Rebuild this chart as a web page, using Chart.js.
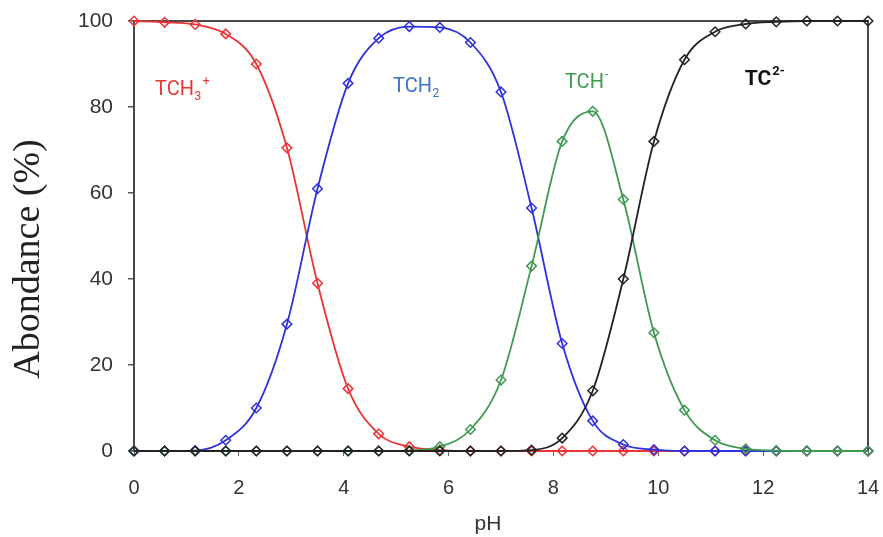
<!DOCTYPE html>
<html>
<head>
<meta charset="utf-8">
<script src="https://cdn.jsdelivr.net/npm/chart.js@4/dist/chart.umd.min.js"></script>
<style>
  html, body { margin: 0; padding: 0; background: #ffffff; overflow: hidden; }
  #wrap { width: 883px; height: 537px; position: relative; }
</style>
</head>
<body>
<div id="wrap"><canvas id="c"></canvas></div>
<script>
// pH sampling points (25 points, 0 to 14)
const phValues = [0, 0.583, 1.167, 1.75, 2.333, 2.917, 3.5, 4.083, 4.667, 5.25, 5.833, 6.417, 7.0,
                  7.583, 8.167, 8.75, 9.333, 9.917, 10.5, 11.083, 11.667, 12.25, 12.833, 13.417, 14];

// Abundance (%) of each species
const tch3 = [100, 99.7, 99.2, 97, 90, 70.5, 39, 14.5, 4, 1, 0.2, 0, 0,
              0, 0, 0, 0, 0, 0, 0, 0, 0, 0, 0, 0];
const tch2 = [0, 0, 0.1, 2.5, 10, 29.5, 61, 85.5, 96, 98.7, 98.5, 95, 83.5,
              56.5, 25, 7, 1.5, 0.3, 0, 0, 0, 0, 0, 0, 0];
const tchm = [0, 0, 0, 0, 0, 0, 0, 0, 0, 0.1, 1, 5, 16.5,
              43, 72, 79, 58.5, 27.5, 9.5, 2.5, 0.5, 0.1, 0, 0, 0];
const tc2m = [0, 0, 0, 0, 0, 0, 0, 0, 0, 0, 0, 0, 0,
              0.2, 3, 14, 40, 72, 91, 97.5, 99.3, 99.8, 100, 100, 100];

const xTicks = [0, 2, 4, 6, 8, 10, 12, 14];
const yTicks = [0, 20, 40, 60, 80, 100];

const xTitle = 'pH';
const yTitle = 'Abondance (%)';

const seriesNames = ['TC2-', 'TCH-', 'TCH2', 'TCH3+'];
const seriesColors = ['#222222', '#3f9a50', '#3030dc', '#ec3434'];
const seriesData = [tc2m, tchm, tch2, tch3];

// Species labels drawn inside the plot: [main text, subscript, superscript, pH, abundance, colour, bold]
const speciesLabels = [
  ['TCH', '3', '+', 0.40, 82.8, '#ec3434', false],
  ['TCH', '2', '',  4.94, 83.5, '#3a72c8', false],
  ['TCH', '',  '-', 8.22, 84.4, '#3f9a50', false],
  ['TC',  '',  '2-', 11.65, 85.1, '#111111', true]
];

const datasets = seriesData.map((vals, i) => ({
  label: seriesNames[i],
  data: phValues.map((p, j) => ({ x: p, y: vals[j] })),
  borderColor: seriesColors[i],
  backgroundColor: 'rgba(255,255,255,0)',
  borderWidth: 1.8,
  pointStyle: 'rectRot',
  pointRadius: 4.8,
  pointBorderWidth: 1.5,
  pointBorderColor: seriesColors[i],
  pointBackgroundColor: 'rgba(255,255,255,0)',
  cubicInterpolationMode: 'monotone',
  fill: false,
  clip: false
}));

const framePlugin = {
  id: 'frame',
  beforeDatasetsDraw(chart) {
    const { ctx, chartArea: a } = chart;
    ctx.save();
    ctx.strokeStyle = '#4a4a4a';
    ctx.lineWidth = 2;
    ctx.beginPath();
    ctx.moveTo(a.left, a.top);
    ctx.lineTo(a.right, a.top);
    ctx.lineTo(a.right, a.bottom);
    ctx.stroke();
    ctx.restore();
  }
};

const titlePlugin = {
  id: 'axisTitles',
  afterDraw(chart) {
    const { ctx, chartArea: a } = chart;
    ctx.save();
    ctx.fillStyle = '#222222';
    ctx.font = '38px "Liberation Serif", "Times New Roman", serif';
    ctx.textAlign = 'center';
    ctx.textBaseline = 'middle';
    ctx.translate(29, (a.top + a.bottom) / 2 + 23);
    ctx.rotate(-Math.PI / 2);
    ctx.fillText(yTitle, 0, 0);
    ctx.restore();
    ctx.save();
    ctx.fillStyle = '#333333';
    ctx.font = '21px "Liberation Sans", Arial, sans-serif';
    ctx.textAlign = 'center';
    ctx.textBaseline = 'middle';
    ctx.fillText(xTitle, (a.left + a.right) / 2 - 13, a.bottom + 73);
    ctx.restore();
  }
};

const labelPlugin = {
  id: 'speciesLabels',
  afterDatasetsDraw(chart) {
    const { ctx } = chart;
    const xs = chart.scales.x, ys = chart.scales.y;
    ctx.save();
    ctx.textBaseline = 'alphabetic';
    ctx.textAlign = 'left';
    speciesLabels.forEach(([main, sub, sup, ph, ab, col, bold]) => {
      const size = bold ? 21 : 20;
      const w = bold ? 'bold ' : '';
      let x = xs.getPixelForValue(ph);
      const y = ys.getPixelForValue(ab);
      ctx.fillStyle = col;
      ctx.font = w + size + 'px Roboto, "Liberation Sans", sans-serif';
      ctx.fillText(main, x, y);
      x += ctx.measureText(main).width;
      const small = w + Math.round(size * 0.62) + 'px Roboto, "Liberation Sans", sans-serif';
      ctx.font = small;
      if (sub) {
        ctx.fillText(sub, x + 0.5, y + 5);
      }
      if (sup) {
        const sx = sub ? x + ctx.measureText(sub).width + 2 : x + 1;
        ctx.fillText(sup, sx, y - 10);
      }
    });
    ctx.restore();
  }
};

function zeroPad(scale) {
  scale.paddingLeft = 0; scale.paddingRight = 0;
  scale.paddingTop = 0; scale.paddingBottom = 0;
}

new Chart(document.getElementById('c'), {
  type: 'line',
  data: { datasets },
  plugins: [framePlugin, labelPlugin, titlePlugin],
  options: {
    responsive: true,
    maintainAspectRatio: false,
    animation: false,
    layout: { padding: { left: 0, right: 15, top: 21, bottom: 0 } },
    plugins: { legend: { display: false }, tooltip: { enabled: false } },
    scales: {
      x: {
        type: 'linear',
        min: 0, max: 14,
        afterBuildTicks(scale) { scale.ticks = xTicks.map(v => ({ value: v })); },
        afterFit(scale) { scale.height = 86; zeroPad(scale); },
        ticks: { color: '#333333', font: { family: '"Liberation Sans", Arial, sans-serif', size: 20 }, padding: 20, maxRotation: 0 },
        grid: { display: true, drawOnChartArea: false, drawTicks: true, tickLength: 5, color: '#666666', lineWidth: 1 },
        border: { display: true, color: '#4a4a4a', width: 2 },
        title: { display: false }
      },
      y: {
        type: 'linear',
        min: 0, max: 100,
        afterBuildTicks(scale) { scale.ticks = yTicks.map(v => ({ value: v })); },
        afterFit(scale) { scale.width = 134; zeroPad(scale); },
        ticks: { color: '#333333', font: { family: '"Liberation Sans", Arial, sans-serif', size: 21 }, padding: 15 },
        grid: { display: true, drawOnChartArea: false, drawTicks: true, tickLength: 6, color: '#555555', lineWidth: 1.5 },
        border: { display: true, color: '#4a4a4a', width: 2 },
        title: { display: false }
      }
    }
  }
});
</script>
</body>
</html>
